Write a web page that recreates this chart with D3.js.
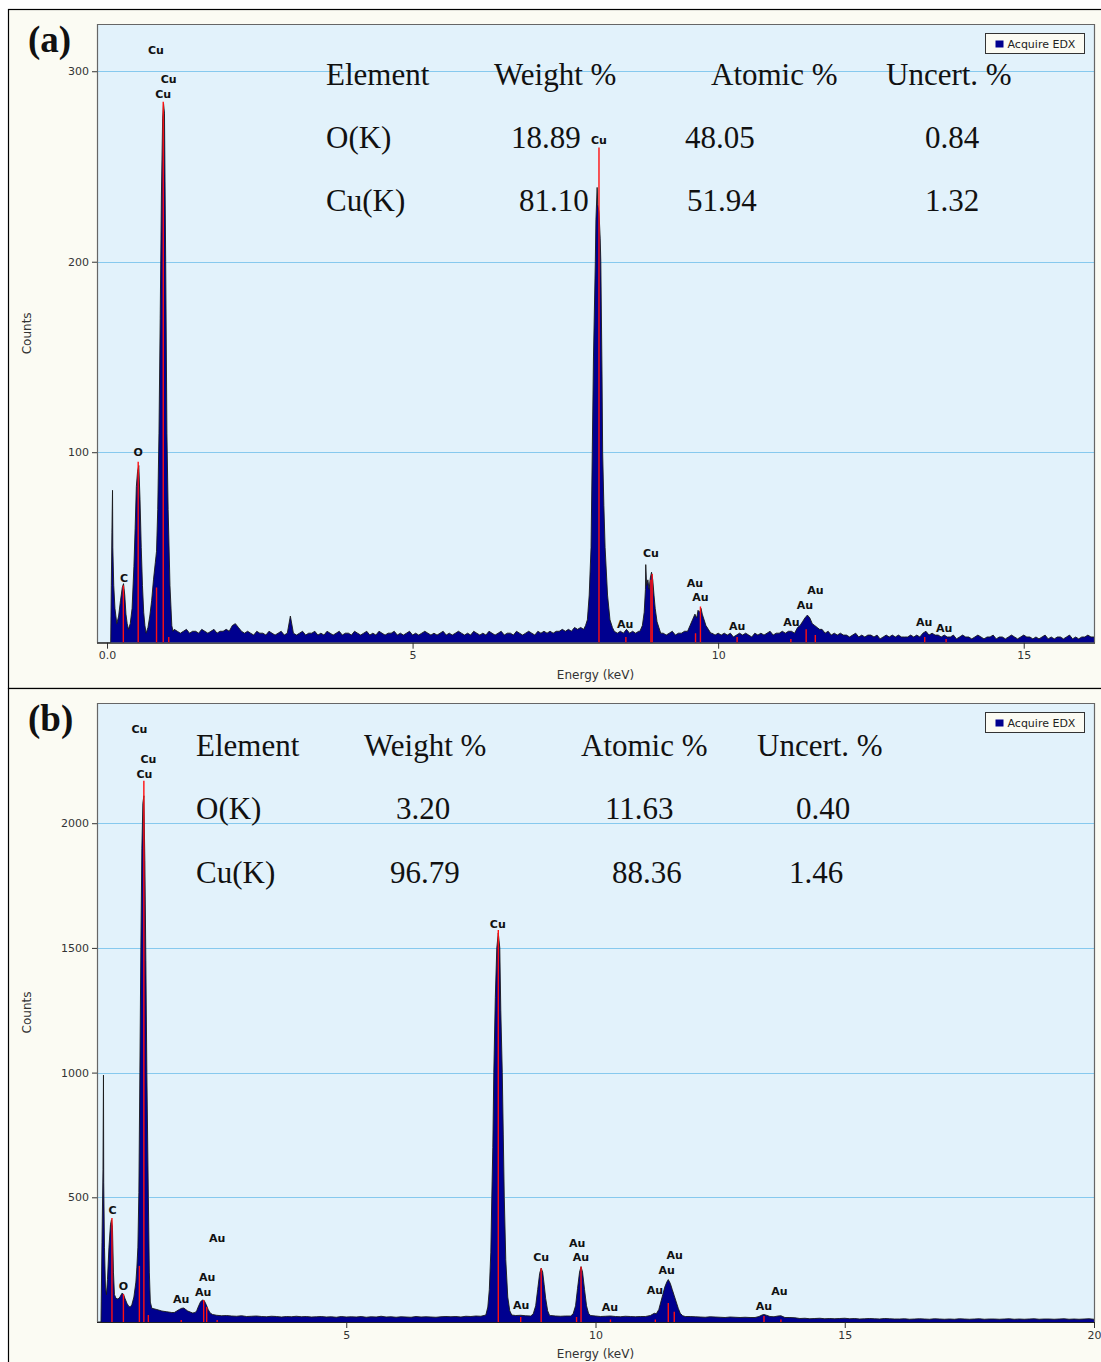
<!DOCTYPE html>
<html>
<head>
<meta charset="utf-8">
<script src="https://cdn.jsdelivr.net/npm/d3@7"></script>
<style>
  body { margin: 0; background: #fff; }
  text { font-family: "DejaVu Sans", sans-serif; }
</style>
</head>
<body>
<svg id="chart" width="1101" height="1362"></svg>
<script>
// ---------- table values ----------
const headers = ["Element", "Weight %", "Atomic %", "Uncert. %"];
const elementsA = ["O(K)", "Cu(K)"];
const weightA = ["18.89", "81.10"];
const atomicA = ["48.05", "51.94"];
const uncertA = ["0.84", "1.32"];
const elementsB = ["O(K)", "Cu(K)"];
const weightB = ["3.20", "96.79"];
const atomicB = ["11.63", "88.36"];
const uncertB = ["0.40", "1.46"];

// ---------- ticks ----------
const xTicksA = [0, 5, 10, 15];
const yTicksA = [100, 200, 300];
const xTicksB = [5, 10, 15, 20];
const yTicksB = [500, 1000, 1500, 2000];

// ---------- spectrum (a): [keV, counts] ----------
const lowA = [[-0.16,0],[0.06,0],[0.07,30],[0.08,58],[0.09,80],[0.095,50],[0.11,30],[0.13,18],[0.16,10],
  [0.19,14],[0.22,22],[0.25,29],[0.27,31],[0.29,25],[0.31,15],[0.33,10],[0.35,7],[0.38,10],[0.41,18],
  [0.44,40],[0.46,60],[0.48,82],[0.5,90],[0.52,93],[0.54,75],[0.56,50],[0.58,30],[0.6,16],[0.62,9],
  [0.64,5],[0.67,8],[0.7,14],[0.73,22],[0.76,33],[0.79,42],[0.81,48],[0.83,70],[0.85,110],[0.87,170],
  [0.89,235],[0.91,275],[0.925,283],[0.94,278],[0.96,200],[0.98,110],[1.0,70],[1.01,57],[1.03,30],
  [1.06,9],[1.08,6]];
const noiseStartA = 1.1, noiseStepA = 0.05;
const noiseA = [
  7,6,5,6,7,5,6,6,5,7,6,5,6,7,5,6,6,7,6,9,
  10,8,6,5,6,5,4,6,5,5,4,6,5,4,5,6,4,5,14,5,
  4,5,6,4,5,5,6,4,5,4,6,5,4,5,6,4,5,5,4,6,
  5,4,5,6,4,5,4,6,5,4,5,5,6,4,5,4,5,6,4,5,
  4,5,6,5,4,5,4,5,6,4,5,4,5,6,5,4,5,4,6,5,
  4,5,4,6,5,4,5,6,4,5,5,4,6,5,4,5,6,5,4,6,
  5,6,5,6,5,6,6,7,6,7,6,8,7,8,9,9,9,9,9,9,
  9,9,9,9,6,5,6,5,7,5,6,5,6,5,8,9,9,9,9,9,
  5,4,5,6,4,5,5,6,8,8,8,8,8,8,8,8,5,4,5,4,
  5,4,5,3,4,5,4,5,4,3,5,4,5,4,5,6,4,5,5,6,
  5,6,6,7,8,9,9,9,9,9,9,9,9,9,9,6,5,4,5,4,
  4,3,4,5,3,4,3,4,4,3,4,2,3,4,3,4,3,4,3,3,
  3,4,3,4,3,5,6,4,5,4,4,3,4,3,3,4,2,3,4,3,
  3,2,3,4,3,2,3,3,4,2,3,3,2,3,4,3,2,3,4,3,
  3,2,3,2,3,4,2,3,2,3,3,2,3,4,2,3,2,3,3,4,
  3,3];
const cuKaA = [[7.8,7],[7.83,9],[7.86,12],[7.89,25],[7.92,50],[7.94,100],[7.96,150],[7.99,200],[8.0,222],
  [8.02,239],[8.03,230],[8.05,226],[8.07,212],[8.08,200],[8.1,140],[8.11,100],[8.13,72],[8.15,50],
  [8.19,25],[8.23,12],[8.27,8],[8.3,6]];
const cuKbA = [[8.72,6],[8.76,9],[8.79,16],[8.81,28],[8.815,41],[8.83,30],[8.85,33],[8.87,28],[8.89,34],
  [8.91,37],[8.93,33],[8.95,25],[8.97,18],[9.0,11],[9.03,8],[9.06,5]];
const auLaA = [[9.5,6],[9.54,9],[9.58,12],[9.62,15],[9.65,13],[9.67,17],[9.7,16],[9.72,18],[9.74,15],
  [9.77,12],[9.8,9],[9.84,7],[9.88,5]];
const auLbA = [[11.2,6],[11.25,5],[11.3,8],[11.34,9],[11.38,11],[11.42,13],[11.46,14.5],[11.5,13],
  [11.54,10],[11.58,9],[11.62,8],[11.66,7],[11.7,7],[11.75,5],[11.8,6],[11.85,4]];
// red marker lines [keV, height]
const markersA = [[0.267,30],[0.51,95],[0.81,29],[0.92,284],[1.01,3],[8.05,260],[8.49,3],[8.9,33],[8.92,36],
  [9.63,5],[9.71,19],[10.31,3],[11.19,2],[11.44,7],[11.59,4],[13.38,3],[13.73,2]];
// peak labels [text, keV, counts]
const labelsA = [["Cu",0.80,309],["Cu",1.01,294],["Cu",0.92,286],["O",0.51,98],["C",0.28,32],
  ["Cu",8.05,262],["Cu",8.90,45],["Au",8.48,7.6],["Au",9.62,29],["Au",9.71,22],["Au",10.31,6.6],
  ["Au",11.2,8.7],["Au",11.42,17.6],["Au",11.59,25.5],["Au",13.37,8.7],["Au",13.70,5.5]];

// ---------- spectrum (b) ----------
const lowB = [[0,0],[0.08,0],[0.1,320],[0.12,610],[0.13,990],[0.135,560],[0.15,300],[0.17,140],[0.19,110],
  [0.21,170],[0.24,300],[0.27,390],[0.29,410],[0.31,380],[0.33,200],[0.35,110],[0.38,95],[0.42,92],
  [0.46,100],[0.5,115],[0.53,112],[0.56,95],[0.6,75],[0.64,62],[0.67,60],[0.7,70],[0.74,100],[0.78,160],
  [0.8,220],[0.82,300],[0.84,520],[0.86,1000],[0.88,1500],[0.9,1900],[0.92,2080],[0.94,2110],[0.96,1850],
  [0.98,1450],[1.0,1000],[1.03,500],[1.05,200],[1.07,80]];
const noiseStartB = 1.1, noiseStepB = 0.1;
const noiseB = [
  55,50,44,41,38,40,45,50,42,38,
  80,60,30,27,25,26,24,23,25,22,
  23,24,22,21,23,22,20,22,21,23,
  21,22,20,21,22,20,21,19,22,20,
  21,20,22,19,21,20,23,20,21,19,
  21,20,19,22,20,21,20,19,21,22,
  21,22,20,23,22,24,23,25,30,30,
  30,30,28,26,27,25,24,30,30,30,
  26,24,23,24,30,30,30,30,30,24,
  22,23,24,22,21,23,22,21,22,23,
  30,30,30,30,30,30,30,24,22,21,
  20,19,21,20,19,18,20,19,18,19,
  18,20,20,20,20,20,20,20,18,17,
  14,15,13,14,15,13,14,13,14,15,
  13,14,12,13,14,13,12,14,13,12,
  12,13,11,12,13,12,11,13,12,11,
  12,11,13,12,11,12,13,11,12,12,
  11,12,13,11,12,11,12,13,11,12,
  12,11,12,13,11,12,11,12,13,11];
const auMB = [[1.55,38],[1.6,44],[1.65,50],[1.7,55],[1.74,56],[1.78,50],[1.82,44],[1.87,40],[1.92,36],
  [1.97,38],[2.0,45],[2.04,65],[2.08,82],[2.12,88],[2.15,86],[2.19,70],[2.23,50],[2.27,36],[2.32,30],[2.4,27]];
const cuKaB = [[7.8,28],[7.84,60],[7.87,130],[7.9,280],[7.92,500],[7.94,700],[7.96,1000],[7.99,1300],
  [8.02,1500],[8.05,1560],[8.08,1500],[8.1,1250],[8.13,1000],[8.15,750],[8.17,500],[8.2,250],[8.24,100],
  [8.28,45],[8.32,28]];
const cuKbB = [[8.7,24],[8.75,32],[8.8,65],[8.84,130],[8.88,195],[8.91,216],[8.94,200],[8.97,150],
  [9.0,95],[9.04,45],[9.08,26]];
const auLaB = [[9.5,24],[9.55,32],[9.6,65],[9.64,135],[9.68,200],[9.71,222],[9.74,200],[9.78,130],
  [9.82,65],[9.86,35],[9.9,26]];
const auLbB = [[11.0,22],[11.1,26],[11.18,35],[11.22,33],[11.27,50],[11.31,80],[11.35,110],[11.39,140],
  [11.43,160],[11.46,170],[11.5,155],[11.54,130],[11.58,105],[11.62,80],[11.66,55],[11.7,35],[11.75,25],[11.8,22]];
const auLgB = [[13.2,18],[13.28,22],[13.34,28],[13.38,30],[13.43,27],[13.5,22],[13.58,21],[13.66,24],
  [13.72,25],[13.8,18]];
const markersB = [[0.3,417],[0.53,112],[0.85,225],[0.94,2170],[1.03,28],[1.69,8],[2.14,88],[2.2,60],
  [2.41,8],[8.05,1572],[8.5,20],[8.91,216],[9.62,20],[9.71,222],[10.3,10],[11.2,10],[11.46,76],
  [11.58,41],[13.38,24],[13.72,10]];
const labelsB = [["Cu",0.85,2362],["Cu",1.03,2241],["Cu",0.95,2181],["C",0.31,433],["O",0.53,128],
  ["Au",1.69,76],["Au",2.13,104],["Au",2.21,164],["Au",2.41,321],["Cu",8.04,1580],["Au",8.51,52],
  ["Cu",8.91,245],["Au",9.63,301],["Au",9.71,245],["Au",10.29,44],["Au",11.19,112],["Au",11.43,192],
  ["Au",11.59,253],["Au",13.38,48],["Au",13.69,108]];

// merge the low-energy part, the noise baseline and the peak profiles
function buildSpectrum(low, start, step, noise, peaks) {
  const pts = low.slice()
  const ranges = peaks.map(p => [p[0][0], p[p.length - 1][0]])
  noise.forEach((c, i) => {
    const e = +(start + i * step).toFixed(3)
    if (!ranges.some(r => e >= r[0] && e <= r[1])) pts.push([e, c])
  })
  peaks.forEach(p => pts.push(...p))
  return pts.sort((a, b) => a[0] - b[0])
}

const panels = [
  {
    id: "a", tag: "(a)", tagY: 52,
    frame: {x: 8.5, y: 9.5, w: 1100, h: 679},
    plot: {x0: 97, x1: 1094, y0: 24, y1: 642.7},
    xDomain: [-0.164, 16.15], yDomain: [0, 324.8],
    xTicks: xTicksA, yTicks: yTicksA,
    spectrum: buildSpectrum(lowA, noiseStartA, noiseStepA, noiseA, [cuKaA, cuKbA, auLaA, auLbA]),
    markers: markersA, labels: labelsA,
    table: [headers, [elementsA[0], weightA[0], atomicA[0], uncertA[0]], [elementsA[1], weightA[1], atomicA[1], uncertA[1]]],
    rowY: [85, 148, 211],
    colX: [[326, 494, 711, 886], [326, 511, 685, 925], [326, 519, 687, 925]]
  },
  {
    id: "b", tag: "(b)", tagY: 731,
    frame: {x: 8.5, y: 688.5, w: 1100, h: 680},
    plot: {x0: 97, x1: 1094, y0: 703, y1: 1322},
    xDomain: [0, 20], yDomain: [0, 2482],
    xTicks: xTicksB, yTicks: yTicksB,
    spectrum: buildSpectrum(lowB, noiseStartB, noiseStepB, noiseB, [auMB, cuKaB, cuKbB, auLaB, auLbB, auLgB]),
    markers: markersB, labels: labelsB,
    table: [headers, [elementsB[0], weightB[0], atomicB[0], uncertB[0]], [elementsB[1], weightB[1], atomicB[1], uncertB[1]]],
    rowY: [756, 819, 883],
    colX: [[196, 364, 581, 757], [196, 396, 605, 796], [196, 390, 612, 789]]
  }
]

const svg = d3.select("#chart")

panels.forEach(p => {
  const g = svg.append("g")
  const pl = p.plot

  g.append("rect")
    .attr("x", p.frame.x).attr("y", p.frame.y)
    .attr("width", p.frame.w).attr("height", p.frame.h)
    .attr("fill", "#fbfbf3").attr("stroke", "#000").attr("stroke-width", 1.2)

  const x = d3.scaleLinear().domain(p.xDomain).range([pl.x0, pl.x1])
  const y = d3.scaleLinear().domain(p.yDomain).range([pl.y1, pl.y0])

  g.append("clipPath").attr("id", "clip-" + p.id)
    .append("rect").attr("x", pl.x0).attr("y", pl.y0)
    .attr("width", pl.x1 - pl.x0).attr("height", pl.y1 - pl.y0)

  g.append("rect")
    .attr("x", pl.x0).attr("y", pl.y0)
    .attr("width", pl.x1 - pl.x0).attr("height", pl.y1 - pl.y0)
    .attr("fill", "#e2f2fb")

  // grid lines
  g.selectAll(".grid").data(p.yTicks).join("line")
    .attr("x1", pl.x0).attr("x2", pl.x1)
    .attr("y1", d => Math.round(y(d)) + 0.5).attr("y2", d => Math.round(y(d)) + 0.5)
    .attr("stroke", "#86c9ee").attr("stroke-width", 1)

  const inner = g.append("g").attr("clip-path", "url(#clip-" + p.id + ")")

  const area = d3.area()
    .x(d => x(d[0])).y0(y(0)).y1(d => y(d[1]))
  inner.append("path").datum(p.spectrum)
    .attr("d", area).attr("fill", "#00008f")

  const line = d3.line().x(d => x(d[0])).y(d => y(d[1]))
  inner.append("path").datum(p.spectrum)
    .attr("d", line).attr("fill", "none")
    .attr("stroke", "#1a1a1a").attr("stroke-width", 0.9)

  inner.selectAll(".marker").data(p.markers).join("line")
    .attr("x1", d => x(d[0])).attr("x2", d => x(d[0]))
    .attr("y1", y(0)).attr("y2", d => y(d[1]))
    .attr("stroke", "#ff1010").attr("stroke-width", 1.4)

  g.selectAll(".plabel").data(p.labels).join("text")
    .attr("x", d => x(d[1])).attr("y", d => y(d[2]))
    .attr("text-anchor", "middle")
    .attr("font-size", 11).attr("font-weight", "bold").attr("fill", "#111")
    .text(d => d[0])

  // axes
  const yAxis = d3.axisLeft(y).tickValues(p.yTicks).tickSize(5).tickPadding(3)
    .tickFormat(d3.format("d"))
  const ya = g.append("g").attr("transform", `translate(${pl.x0},0)`).call(yAxis)
  const xAxis = d3.axisBottom(x).tickValues(p.xTicks).tickSize(6).tickPadding(3)
    .tickFormat(d => d === 0 ? "0.0" : d)
  const xa = g.append("g").attr("transform", `translate(0,${pl.y1})`).call(xAxis)
  ;[ya, xa].forEach(a => {
    a.select(".domain").remove()
    a.selectAll(".tick line").attr("stroke", "#333")
    a.selectAll(".tick text").attr("font-family", "DejaVu Sans").attr("font-size", 11).attr("fill", "#333")
  })

  // plot frame
  g.append("path")
    .attr("d", `M${pl.x0 + 0.5},${pl.y1}V${pl.y0 + 0.5}H${pl.x1 + 0.5}V${pl.y1}`)
    .attr("fill", "none").attr("stroke", "#666").attr("stroke-width", 1.2)
  g.append("line")
    .attr("x1", pl.x0).attr("x2", pl.x1 + 1)
    .attr("y1", pl.y1 + 0.5).attr("y2", pl.y1 + 0.5)
    .attr("stroke", "#222").attr("stroke-width", 1.2)

  g.append("text")
    .attr("transform", `translate(31,${(pl.y0 + pl.y1) / 2}) rotate(-90)`)
    .attr("text-anchor", "middle").attr("font-size", 12).attr("fill", "#333")
    .text("Counts")
  g.append("text")
    .attr("x", (pl.x0 + pl.x1) / 2).attr("y", pl.y1 + 36)
    .attr("text-anchor", "middle").attr("font-size", 12).attr("fill", "#333")
    .text("Energy (keV)")

  // legend
  const lg = g.append("g").attr("transform", `translate(985.5,${pl.y0 + 9.5})`)
  lg.append("rect").attr("width", 99).attr("height", 20)
    .attr("fill", "#fbfbf3").attr("stroke", "#333")
  lg.append("rect").attr("x", 10).attr("y", 7).attr("width", 8).attr("height", 7)
    .attr("fill", "#00008f")
  lg.append("text").attr("x", 22).attr("y", 14.5)
    .attr("font-size", 11).attr("fill", "#222").text("Acquire EDX")

  // composition table
  p.table.forEach((row, r) => {
    row.forEach((cell, c) => {
      g.append("text")
        .attr("x", p.colX[r][c]).attr("y", p.rowY[r])
        .style("font-family", "'Liberation Serif', 'Times New Roman', serif")
        .attr("font-size", 31).attr("fill", "#111")
        .text(cell)
    })
  })

  g.append("text")
    .attr("x", 28).attr("y", p.tagY)
    .style("font-family", "'Liberation Serif', 'Times New Roman', serif")
    .attr("font-size", 37).attr("font-weight", "bold").attr("fill", "#111")
    .text(p.tag)
})
</script>
</body>
</html>
